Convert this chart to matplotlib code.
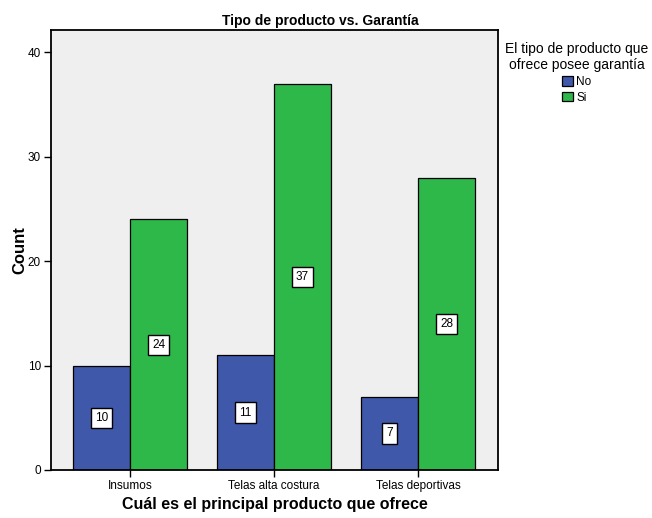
import numpy as np
import matplotlib
matplotlib.use('Agg')
import matplotlib.pyplot as plt
from matplotlib.patches import Patch

plt.rcParams['font.family'] = ['Liberation Sans', 'DejaVu Sans']

# data
categories = ['Insumos', 'Telas alta costura', 'Telas deportivas']
series_names = ['No', 'Si']
no_counts = [10, 11, 7]
si_counts = [24, 37, 28]
yticks = [0, 10, 20, 30, 40]

blue = '#3F58A9'
green = '#2EB84A'

fig = plt.figure(figsize=(6.52, 5.18), dpi=100)
ax = fig.add_axes([0.0778, 0.0927, 0.6865, 0.8488])
ax.set_facecolor('#EFEFEF')

ind = np.arange(len(categories))
width = 0.396

bars_no = ax.bar(ind - width/2, no_counts, width, color=blue, edgecolor='black', linewidth=0.9)
bars_si = ax.bar(ind + width/2, si_counts, width, color=green, edgecolor='black', linewidth=0.9)


def autolabel(rects):
    for rect in rects:
        h = rect.get_height()
        ax.text(rect.get_x() + rect.get_width()/2, h/2, '{}'.format(h),
                ha='center', va='center', fontsize=8.5,
                bbox=dict(boxstyle='square,pad=0.35', facecolor='white',
                          edgecolor='black', linewidth=1.0))


autolabel(bars_no)
autolabel(bars_si)

ax.set_xlim(-0.551, 2.558)
ax.set_ylim(0, 42.1)
ax.set_xticks(ind)
ax.set_xticklabels(categories, fontsize=8.5)
ax.set_yticks(yticks)
ax.set_yticklabels([str(t) for t in yticks], fontsize=8.5)
ax.tick_params(direction='out', length=5, width=1, pad=2, color='black')
for s in ax.spines.values():
    s.set_linewidth(1.3)
    s.set_color('black')

# SPSS centres the title on the whole chart, not on the plot area
fig.text(0.491, 0.952, 'Tipo de producto vs. Garantía', fontsize=10, fontweight='bold',
         ha='center', va='baseline')
ax.set_xlabel('Cuál es el principal producto que ofrece', fontsize=11.5, fontweight='bold', labelpad=4)
ax.set_ylabel('Count', fontsize=12, fontweight='bold', labelpad=0)

handles = [Patch(facecolor=blue, edgecolor='black', linewidth=0.9),
           Patch(facecolor=green, edgecolor='black', linewidth=0.9)]
leg = fig.legend(handles, series_names, loc='upper center', bbox_to_anchor=(0.885, 0.94),
                 frameon=False, fontsize=8.5, title='El tipo de producto que\nofrece posee garantía',
                 title_fontsize=10, handlelength=0.9, handleheight=0.9, handletextpad=0.3,
                 labelspacing=0.3, borderpad=0.4)
leg.get_title().set_multialignment('center')
leg._legend_box.sep = 3

fig.savefig('out.png', dpi=100)
